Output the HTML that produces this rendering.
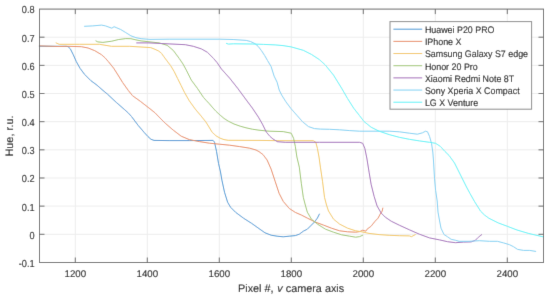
<!DOCTYPE html><html><head><meta charset="utf-8"><style>html,body{margin:0;padding:0;background:#fff;}body{width:550px;height:298px;overflow:hidden;}svg{display:block;will-change:transform;}text{font-family:"Liberation Sans",sans-serif;fill:#0d0d0d;text-rendering:geometricPrecision;stroke:#0d0d0d;stroke-width:0.1px;}</style></head><body>
<svg width="550" height="298" viewBox="0 0 550 298">
<defs><filter id="sb" x="0" y="0" width="550" height="298" filterUnits="userSpaceOnUse"><feConvolveMatrix order="3" kernelMatrix="0 1 0 1 8 1 0 1 0" preserveAlpha="false" edgeMode="duplicate"/></filter></defs><g filter="url(#sb)">
<rect width="550" height="298" fill="#fff"/>
<path d="M75.30 9.04V262.46M147.30 9.04V262.46M219.30 9.04V262.46M291.30 9.04V262.46M363.30 9.04V262.46M435.30 9.04V262.46M507.30 9.04V262.46M39.3 37.20H543.3M39.3 65.36H543.3M39.3 93.51H543.3M39.3 121.67H543.3M39.3 149.83H543.3M39.3 177.99H543.3M39.3 206.14H543.3M39.3 234.30H543.3" stroke="#ededed" stroke-width="1" fill="none"/>
<polyline points="39.3,46.2 55,46.3 66,46.3 68,46.6 70.3,48.8 73.3,54.8 76.3,61.6 80.1,68.4 84.6,74.4 90.7,80.5 97,85.2 102,89.6 107.5,94.2 116.2,102.3 124.9,109.9 128.5,113.2 131.5,116.5 138,125.2 144.5,132.8 148,136.6 151,139.3 154,140.4 169.1,140.6 189.3,140.6 213.1,140.4 214.5,142.2 216.5,151.3 218.5,163.3 220.5,172 221.9,180.1 224.5,192.2 227.6,202.2 230.6,207.3 235.6,212.3 243.7,218.3 251.7,223.4 259,228.6 265,232.8 271.1,235.2 277.1,236.2 283.2,236.8 289.2,236.2 295.3,235.6 299.3,234.2 303.3,231.2 307.3,229.2 311.4,225.1 314.4,222.1 317.4,218.1 319.4,214.1" fill="none" stroke="#4596d4" stroke-width="1.0" stroke-linejoin="round" stroke-linecap="round"/>
<polyline points="39.3,45.9 59.1,46.5 67.2,46.3 81.4,46.7 88.1,48 94.8,50.7 101.5,54.7 105,57.8 108.2,61.4 113.6,68.1 118,75 122.7,82.6 128.2,90.3 132.5,95.7 140.2,101.2 150,108.8 155,112.8 157.1,115 162,120 165.1,123.1 173.2,130.1 181.2,136.2 189.3,139.6 199.4,141.6 209.4,143.2 219.5,144.2 229.6,145.2 239.7,146.6 249.7,148.2 256,150 259,151.6 263,154.6 267.1,160 271.1,169.1 275.1,181.2 279.1,193.3 283.2,201.3 289.2,208.4 295.3,212.4 301.3,215 307.3,218.1 315.4,222.1 323.5,225.1 331.5,228.2 339.6,230.8 347.6,231.8 355.7,232.2 359.7,231.6 362.7,230.2 365.8,231.2 367.1,229.2 371.1,226.2 375.1,221.2 378.1,218.1 380.2,214.1 382.2,211.1 382.8,208.1" fill="none" stroke="#e8895f" stroke-width="1.0" stroke-linejoin="round" stroke-linecap="round"/>
<polyline points="56.1,42.9 59.1,44.3 79.3,44.3 99.4,44.3 111.5,46.3 129.7,46.3 150.7,47.6 155,49.3 158.8,51.1 161.5,53.3 163.5,56.2 167,60.9 170.6,65.6 174.1,71.4 177.6,78.5 181.1,85.5 184.6,92.6 189.3,100.8 195.2,109 201.1,116 205.8,121.9 209,127 212.1,132.2 216,135.8 220.1,138.2 224,139.6 228.2,140.3 259,140.4 279.1,140.7 313.4,140.7 315.8,142.3 317.4,148.3 319,157 320.4,167.1 322.5,181.2 324.5,197.3 326.5,205 328.5,211 333.5,219.1 339.6,224.1 347.6,228.2 355.7,230.8 361.7,231.8 369,233.4 379.1,234.6 389.2,235.3 399.3,235.7 409.4,235.9 411.4,236.7 415.4,234.6" fill="none" stroke="#f3c75e" stroke-width="1.0" stroke-linejoin="round" stroke-linecap="round"/>
<polyline points="95.9,40.9 97.8,41.9 102.9,42.4 111.8,41.2 118.2,39.6 125.8,38.6 130.9,38.7 136,39.9 141.1,40.9 150,41.9 159.1,42.9 167.1,45.3 173.2,50.3 179.2,58.4 183,64 186.3,70.1 191.3,80.1 197.3,88.2 203.4,97.3 206,100.2 209.4,103.8 212.1,107 216,111.3 220.1,115.1 224,118.4 228.2,121.1 234,124 240.2,126.2 246,127.8 252.3,129.2 259,130.2 269.1,131.2 283.2,131.6 291.2,133.2 293.6,138.3 295.3,146.3 296.9,157 299.3,167.1 301.3,183.2 303.3,197.3 305.3,205 307.3,212.1 311.4,219.1 317.4,224.1 325.5,229.2 333.5,232.2 341.6,234.8 349.7,236.2 355.7,237.2 359.7,236.6 362.7,235.2" fill="none" stroke="#9dc670" stroke-width="1.0" stroke-linejoin="round" stroke-linecap="round"/>
<polyline points="136.7,42.9 149,42.9 169.1,43.9 185.3,44.7 193.3,46.3 201.4,48.9 207.4,52.3 213.5,58.4 217,62.5 221.5,69.1 229.6,78.1 237.6,88.2 246.3,100 252.3,108 258.4,117.1 262.4,124.1 266.4,132.2 270,136.4 273,139 277.1,141.5 277.1,141.7 285.2,142.3 319.4,142.3 359.7,142.3 362.7,143.3 364.8,148.3 366.8,158 369.1,172.2 371.1,184.2 374.1,196.3 377.1,206 381.2,213.1 385.2,217.1 391.2,221.2 399.3,225.2 409.4,229.8 419.4,234.2 429.5,237.9 439.6,239.9 447.5,241.7 455.5,242.7 463.5,242.1 471.2,241.9 475.3,240.3 478.3,237.3 481.7,234.6" fill="none" stroke="#a26cb9" stroke-width="1.0" stroke-linejoin="round" stroke-linecap="round"/>
<polyline points="84.5,26.3 92.7,25.9 101.6,25.1 105.5,25.9 111.8,28.2 114.1,26.7 116.9,27.9 120.7,29.5 125.8,32.6 130.9,35.8 136,37.7 141.1,38.7 150,39.4 169.1,39.2 219.5,39.2 233.1,39.5 246.2,40.4 250.5,41.5 254.9,43.6 258.2,46.4 261.5,50.7 264.7,55.6 267.5,60.5 271.1,66.5 274.1,76.1 277.1,82.2 279.2,90 281.7,95.1 285.9,101.8 290.9,108.5 296.8,115.2 302.7,121.9 308.5,126.6 314.4,128.6 320.3,129.1 329.5,129.3 339.6,129.8 349.7,130.6 359.7,131.2 379.1,131.2 389.2,131.2 399.3,131.8 409.4,133.2 417.4,134.2 422.5,132.8 425.5,131.2 427.5,131.8 429.5,136.3 431.5,143.3 432.8,152 433.5,161 434.5,178.2 435.6,190.3 437.2,201 438,212.1 439.6,221 441,228.2 444,234.5 447.6,236.8 451.1,239.3 455.7,240.3 459.1,241.3 469.2,241.3 479.3,240.7 489.4,241.3 497.4,241.3 503.5,242.9 509.5,244.7 513.5,246.7 517.6,249.4 523.6,250.4 529.7,250.4 535.7,251.4" fill="none" stroke="#7fd0f3" stroke-width="1.0" stroke-linejoin="round" stroke-linecap="round"/>
<polyline points="226.4,43.4 228.4,44.1 233.5,43.8 252.7,44 263.6,44.4 275.1,44.9 283,45.6 291.2,46.9 303.3,50.3 311.4,54.4 319.4,59.6 325.3,65 333.5,75.1 341.6,88.2 347.6,98.6 353.7,108.2 359.5,115.6 364,121.5 371.1,127.2 379.1,131.2 389.2,134.6 399.3,137.3 409.4,139.3 419.4,140.9 429.5,142.3 435.6,143.3 440.5,146.5 445,151.5 449.1,155.5 454.5,163 460.5,175 466.5,187 470,193.5 474.7,201.8 480.6,211.2 484.5,215 488.8,218.2 498.2,222.9 507.6,226.4 517,230 528.8,233.5 543,236.8" fill="none" stroke="#58f3f7" stroke-width="1.0" stroke-linejoin="round" stroke-linecap="round"/>
<path d="M75.30 262.5v-5M75.30 9.1v5M147.30 262.5v-5M147.30 9.1v5M219.30 262.5v-5M219.30 9.1v5M291.30 262.5v-5M291.30 9.1v5M363.30 262.5v-5M363.30 9.1v5M435.30 262.5v-5M435.30 9.1v5M507.30 262.5v-5M507.30 9.1v5M39.5 37.20h5M543.5 37.20h-5M39.5 65.36h5M543.5 65.36h-5M39.5 93.51h5M543.5 93.51h-5M39.5 121.67h5M543.5 121.67h-5M39.5 149.83h5M543.5 149.83h-5M39.5 177.99h5M543.5 177.99h-5M39.5 206.14h5M543.5 206.14h-5M39.5 234.30h5M543.5 234.30h-5" stroke="#666" stroke-width="1" fill="none"/>
<rect x="39.5" y="9.1" width="504.00" height="253.40" fill="none" stroke="#666" stroke-width="1"/>
<text x="75.30" y="277.0" font-size="9.7" text-anchor="middle">1200</text>
<text x="147.30" y="277.0" font-size="9.7" text-anchor="middle">1400</text>
<text x="219.30" y="277.0" font-size="9.7" text-anchor="middle">1600</text>
<text x="291.30" y="277.0" font-size="9.7" text-anchor="middle">1800</text>
<text x="363.30" y="277.0" font-size="9.7" text-anchor="middle">2000</text>
<text x="435.30" y="277.0" font-size="9.7" text-anchor="middle">2200</text>
<text x="507.30" y="277.0" font-size="9.7" text-anchor="middle">2400</text>
<text transform="translate(34.6 13.44) scale(0.95 1.05)" font-size="9.7" text-anchor="end">0.8</text>
<text transform="translate(34.6 41.60) scale(0.95 1.05)" font-size="9.7" text-anchor="end">0.7</text>
<text transform="translate(34.6 69.76) scale(0.95 1.05)" font-size="9.7" text-anchor="end">0.6</text>
<text transform="translate(34.6 97.91) scale(0.95 1.05)" font-size="9.7" text-anchor="end">0.5</text>
<text transform="translate(34.6 126.07) scale(0.95 1.05)" font-size="9.7" text-anchor="end">0.4</text>
<text transform="translate(34.6 154.23) scale(0.95 1.05)" font-size="9.7" text-anchor="end">0.3</text>
<text transform="translate(34.6 182.39) scale(0.95 1.05)" font-size="9.7" text-anchor="end">0.2</text>
<text transform="translate(34.6 210.54) scale(0.95 1.05)" font-size="9.7" text-anchor="end">0.1</text>
<text transform="translate(34.6 238.70) scale(0.95 1.05)" font-size="9.7" text-anchor="end">0</text>
<text transform="translate(34.6 266.86) scale(0.95 1.05)" font-size="9.7" text-anchor="end">-0.1</text>
<text x="291.1" y="292" font-size="10.85" text-anchor="middle">Pixel #, <tspan dx="0.7" font-style="italic">v</tspan> camera axis</text>
<text transform="translate(12.5 136.0) rotate(-90)" font-size="10.85" text-anchor="middle">Hue, r.u.</text>
<rect x="390.0" y="21.6" width="141.60000000000002" height="87.60" fill="#fff" stroke="#888" stroke-width="1"/>
<line x1="393.4" y1="29.20" x2="422.2" y2="29.20" stroke="#4596d4" stroke-width="1.0"/>
<text transform="translate(424.9 33.00) scale(1 1.07)" font-size="8.9">Huawei P20 PRO</text>
<line x1="393.4" y1="41.37" x2="422.2" y2="41.37" stroke="#e8895f" stroke-width="1.0"/>
<text transform="translate(424.9 45.17) scale(1 1.07)" font-size="8.9">IPhone X</text>
<line x1="393.4" y1="53.54" x2="422.2" y2="53.54" stroke="#f3c75e" stroke-width="1.0"/>
<text transform="translate(424.9 57.34) scale(1 1.07)" font-size="8.9">Samsung Galaxy S7 edge</text>
<line x1="393.4" y1="65.71" x2="422.2" y2="65.71" stroke="#9dc670" stroke-width="1.0"/>
<text transform="translate(424.9 69.51) scale(1 1.07)" font-size="8.9">Honor 20 Pro</text>
<line x1="393.4" y1="77.88" x2="422.2" y2="77.88" stroke="#a26cb9" stroke-width="1.0"/>
<text transform="translate(424.9 81.68) scale(1 1.07)" font-size="8.9">Xiaomi Redmi Note 8T</text>
<line x1="393.4" y1="90.05" x2="422.2" y2="90.05" stroke="#7fd0f3" stroke-width="1.0"/>
<text transform="translate(424.9 93.85) scale(1 1.07)" font-size="8.9">Sony Xperia X Compact</text>
<line x1="393.4" y1="102.22" x2="422.2" y2="102.22" stroke="#58f3f7" stroke-width="1.0"/>
<text transform="translate(424.9 106.02) scale(1 1.07)" font-size="8.9">LG X Venture</text>
</g></svg></body></html>
